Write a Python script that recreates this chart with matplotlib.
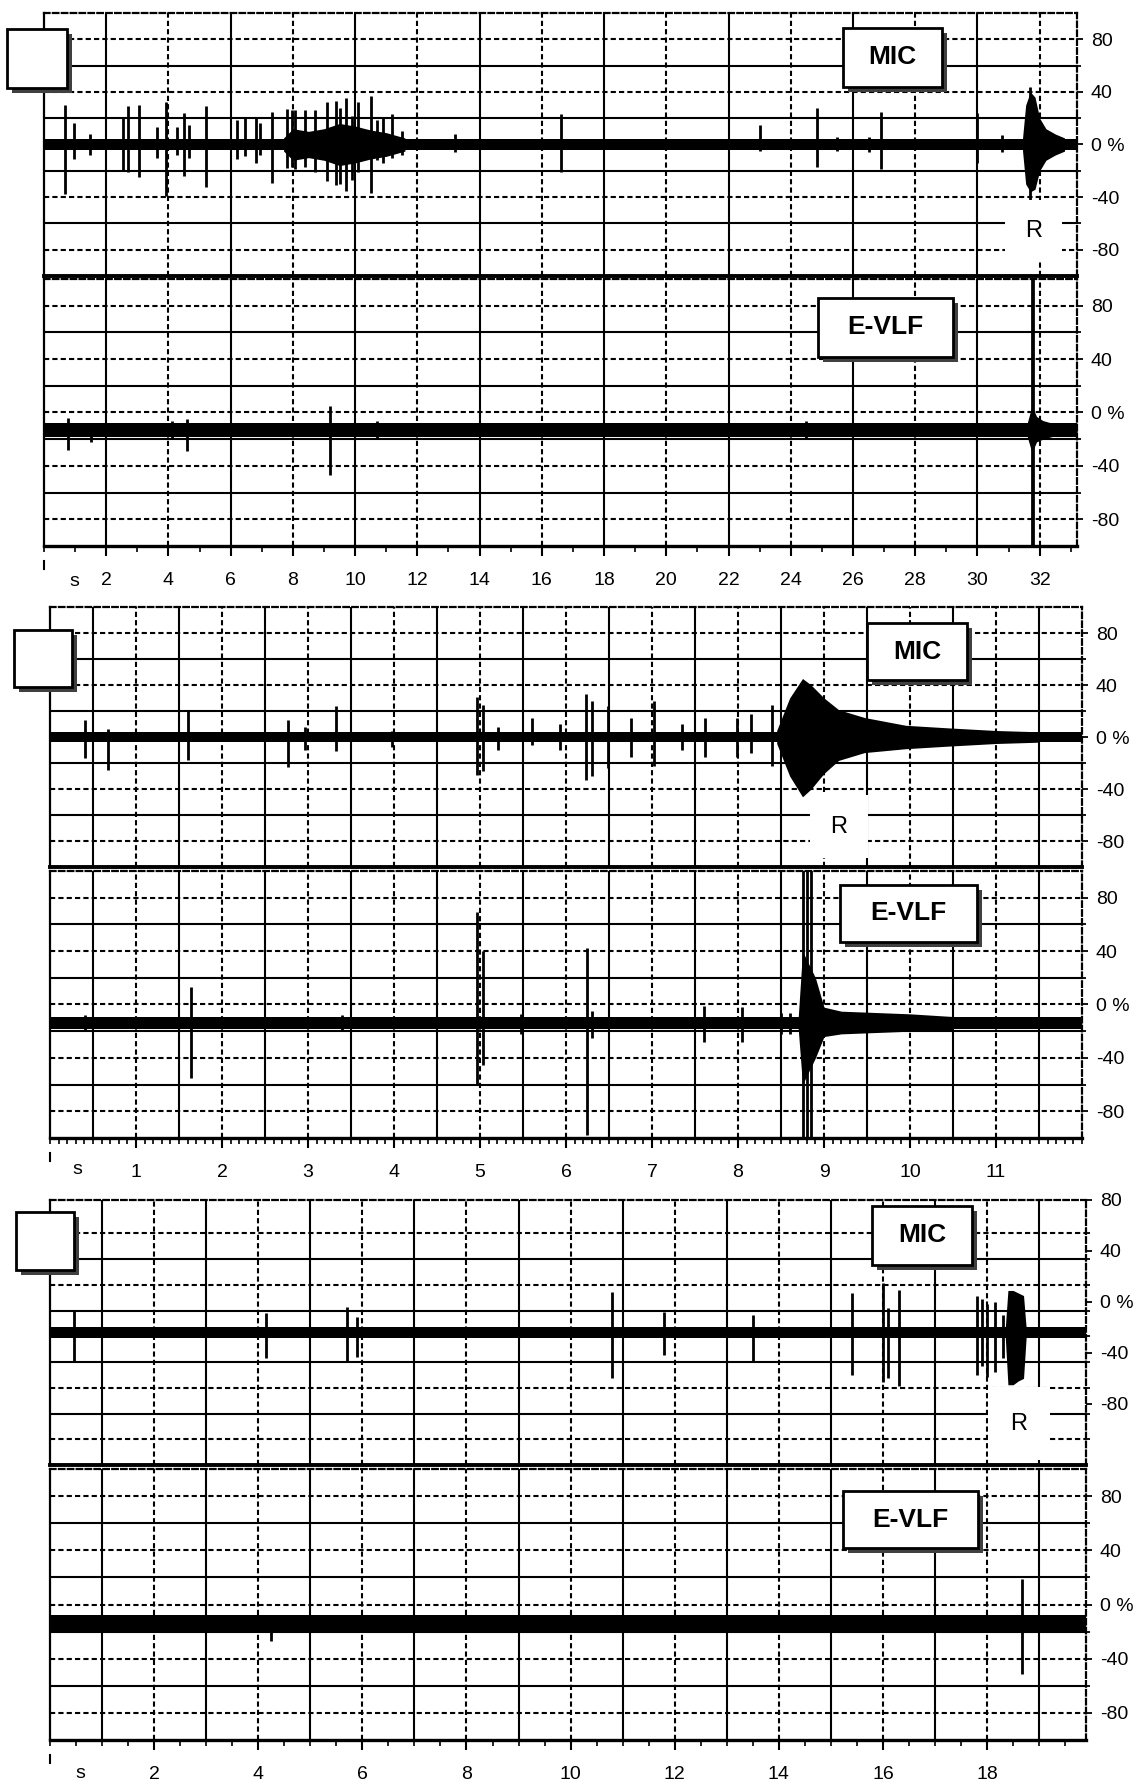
"""MIC / E-VLF recordings, three sessions, oscilloscope style grid"""
import matplotlib
matplotlib.use("Agg")
import matplotlib.pyplot as plt
from matplotlib.patches import Rectangle

plt.rcParams["font.family"] = ["Liberation Sans", "DejaVu Sans"]

W, H = 1141, 1785

Y_TICKS = [80, 40, 0, -40, -80]
Y_LABELS = ["80", "40", "0 %", "-40", "-80"]

# ---- session 1 (s) -----------------------------------------------------------
p1_xmax = 33.2
p1_grid = list(range(2, 34, 2))
p1_ticks = list(range(2, 34, 2))

mic1_base = 0
mic1_t = [0.68, 0.96, 1.48, 2.55, 2.71, 3.06, 3.62, 3.91, 4.26, 4.5, 4.65, 5.2,
          6.2, 6.46, 6.8, 6.95, 7.32, 7.8, 7.97, 8.07, 8.4, 8.7, 9.1, 9.4, 9.5,
          9.7, 9.9, 10.1, 10.5, 10.7, 10.9, 11.2, 11.5, 13.2, 16.6, 23.0, 24.85,
          25.5, 26.5, 26.9, 30.0, 30.8, 31.7]
mic1_hi = [30, 16, 8, 20, 29, 30, 13, 32, 13, 24, 15, 29, 19, 20, 21, 16, 25, 27,
           26, 26, 26, 26, 32, 33, 28, 35, 22, 32, 37, 19, 20, 23, 10, 8, 23, 15,
           28, 6, 6, 25, 24, 7, 44]
mic1_lo = [-38, -11, -8, -20, -21, -25, -10, -39, -8, -24, -10, -32, -11, -9, -14,
           -8, -29, -18, -17, -19, -17, -21, -28, -31, -30, -35, -27, -21, -37, -12,
           -14, -10, -8, -6, -21, -5, -17, -5, -6, -19, -14, -6, -43]
mic1_burst1_t = [7.7, 8.0, 8.5, 9.0, 9.5, 10.0, 10.5, 11.0, 11.6]
mic1_burst1_hi = [5, 12, 10, 12, 16, 14, 11, 9, 5]
mic1_burst1_lo = [-5, -12, -10, -12, -16, -14, -11, -9, -5]
mic1_burst2_t = [31.45, 31.55, 31.7, 31.85, 32.0, 32.2, 32.5, 32.8]
mic1_burst2_hi = [5, 30, 40, 36, 20, 12, 8, 5]
mic1_burst2_lo = [-5, -30, -36, -34, -20, -12, -8, -5]

vlf1_base = -13
vlf1_t = [0.77, 1.5, 4.1, 4.6, 9.2, 10.7, 24.5, 31.75, 31.8]
vlf1_hi = [-4, -8, -6, -5, 5, -6, -6, 110, 110]
vlf1_lo = [-28, -22, -20, -29, -47, -20, -19, -110, -110]
vlf1_burst_t = [31.6, 31.75, 31.9, 32.1, 32.4, 32.8, 33.2]
vlf1_burst_hi = [-8, 5, -3, -6, -8, -8, -8]
vlf1_burst_lo = [-18, -30, -22, -20, -18, -18, -18]

# ---- session 2 (s) -----------------------------------------------------------
p2_xmax = 12.0
p2_grid = [0.5 * k for k in range(1, 24)]
p2_ticks = list(range(1, 12))

mic2_base = 0
mic2_t = [0.41, 0.67, 1.60, 2.77, 2.96, 3.32, 3.98, 4.97, 5.04, 5.21, 5.60, 5.93,
          6.23, 6.30, 6.49, 6.76, 7.02, 7.35, 7.62, 7.99, 8.15, 8.39]
mic2_hi = [13, 6, 21, 13, 8, 24, 5, 31, 25, 8, 15, 10, 33, 28, 24, 15, 28, 10, 15,
           15, 18, 25]
mic2_lo = [-16, -25, -18, -23, -10, -11, -8, -29, -26, -10, -6, -10, -33, -30, -24,
           -15, -22, -10, -15, -15, -12, -22]
mic2_burst_t = [8.45, 8.6, 8.75, 8.85, 9.0, 9.17, 9.47, 9.95, 10.45, 11.0, 11.5]
mic2_burst_hi = [5, 30, 45, 40, 30, 21, 15, 9, 7, 5, 4]
mic2_burst_lo = [-5, -30, -46, -40, -28, -18, -12, -9, -7, -5, -4]

vlf2_base = -14
vlf2_t = [0.41, 1.64, 3.4, 4.97, 5.04, 5.48, 6.24, 6.3, 7.6, 8.05, 8.5, 8.6,
          8.75, 8.8, 8.85]
vlf2_hi = [-8, 13, -8, 69, 40, -7, 42, -5, -1, -2, -6, -6, 110, 110, 110]
vlf2_lo = [-20, -55, -20, -60, -45, -22, -98, -25, -28, -28, -22, -22, -110, -110,
           -110]
vlf2_burst_t = [8.7, 8.75, 8.9, 9.0, 9.2, 9.6, 10.0, 10.5]
vlf2_burst_hi = [-10, 40, 20, -2, -5, -6, -7, -9]
vlf2_burst_lo = [-18, -60, -40, -24, -22, -21, -20, -19]

# ---- session 3 (s) -----------------------------------------------------------
p3_xmax = 19.9
p3_grid = list(range(1, 20))
p3_ticks = list(range(2, 20, 2))

mic3_base = -24
mic3_t = [0.47, 4.15, 5.7, 5.9, 10.8, 11.8, 13.5, 15.4, 16.0, 16.1, 16.3, 17.8,
          17.9, 18.0, 18.15, 18.3]
mic3_hi = [-6, -9, -4, -12, 8, -8, -10, 7, 15, -5, 9, 5, 2, -2, 0, -10]
mic3_lo = [-46, -44, -46, -43, -60, -42, -47, -57, -63, -60, -66, -57, -50, -59,
           -55, -44]
mic3_burst_t = [18.35, 18.4, 18.5, 18.6, 18.7, 18.75]
mic3_burst_hi = [-20, 9, 9, 7, 5, -20]
mic3_burst_lo = [-28, -65, -65, -62, -60, -28]

vlf3_base = -13.5
vlf3_t = [4.24, 18.67]
vlf3_hi = [-8, 19]
vlf3_lo = [-27, -51]

SOLID = "-"
DASH = (0, (2.5, 1.5))


def px_axes(x0, y0, x1, y1):
    return fig.add_axes([x0 / W, 1 - y1 / H, (x1 - x0) / W, (y1 - y0) / H])


def style_channel(ax, xmax, ylim, vgrid, is_mic):
    lo, hi = ylim
    ax.set_xlim(0, xmax)
    ax.set_ylim(lo, hi)
    for i, g in enumerate(vgrid):
        ax.axvline(g, color="k", lw=1.5, ls=SOLID if i % 2 == 0 else DASH, zorder=1)
    hgrid = [lo + (hi - lo) * k / 10 for k in range(1, 10)]
    for i, g in enumerate(hgrid):
        ax.axhline(g, color="k", lw=1.5, ls=DASH if i % 2 == 0 else SOLID, zorder=1)

    ax.yaxis.tick_right()
    ax.set_yticks(Y_TICKS, Y_LABELS)
    ax.set_yticks(hgrid, minor=True)
    ax.tick_params(axis="y", which="major", length=4, width=1.3, pad=6,
                   labelsize=14, direction="out")
    ax.tick_params(axis="y", which="minor", length=3, width=1.3, direction="out")

    ax.spines["top"].set_linestyle(DASH)
    ax.spines["right"].set_linestyle(DASH)
    for sp in ax.spines.values():
        sp.set_linewidth(1.6)
    if is_mic:
        ax.spines["bottom"].set_linewidth(2.8)
        ax.tick_params(axis="x", which="both", bottom=False, labelbottom=False)


def draw_trace(ax, xmax, base, hw, ts, his, los, bursts=()):
    ax.fill_between([0, xmax], base - hw, base + hw, color="k", lw=0, zorder=3)
    for bt, bh, bl in bursts:
        ax.fill_between(bt, bl, bh, color="k", lw=0, zorder=3)
    ax.vlines(ts, los, his, color="k", lw=2.0, zorder=4)


def time_axis(ax, ticks, minor_step, xmax, s_x, label_y):
    ax.set_xticks(ticks, [str(t) for t in ticks])
    n = int(xmax / minor_step) + 1
    ax.set_xticks([minor_step * k for k in range(n)], minor=True)
    ax.tick_params(axis="x", which="major", length=7, width=1.5, pad=12,
                   labelsize=14, direction="out")
    ax.tick_params(axis="x", which="minor", length=4, width=1.2, direction="out")
    ax.spines["bottom"].set_linewidth(2.4)
    ax.plot([0, 0], [-0.055, -0.085], color="k", lw=1.5,
            transform=ax.get_xaxis_transform(), clip_on=False)
    fig.text(s_x / W, 1 - label_y / H, "s", ha="center", va="center", fontsize=14)


def shadow_box(x0, y0, x1, y1, text=None):
    sh = 5
    fig.add_artist(Rectangle(((x0 + sh) / W, 1 - (y1 + sh) / H), (x1 - x0) / W,
                             (y1 - y0) / H, transform=fig.transFigure,
                             facecolor="#404040", edgecolor="none", zorder=5))
    fig.add_artist(Rectangle((x0 / W, 1 - y1 / H), (x1 - x0) / W, (y1 - y0) / H,
                             transform=fig.transFigure, facecolor="white",
                             edgecolor="black", lw=2, zorder=6))
    if text:
        fig.text((x0 + x1) / 2 / W, 1 - (y0 + y1) / 2 / H, text, ha="center",
                 va="center", fontsize=19, fontweight="bold", zorder=7)


def r_mark(x0, y0, x1, y1):
    fig.add_artist(Rectangle((x0 / W, 1 - y1 / H), (x1 - x0) / W, (y1 - y0) / H,
                             transform=fig.transFigure, facecolor="white",
                             edgecolor="none", zorder=4))
    fig.text((x0 + x1) / 2 / W, 1 - (y0 + y1) / 2 / H, "R", ha="center",
             va="center", fontsize=17, zorder=7)


fig = plt.figure(figsize=(W / 100, H / 100), dpi=100, facecolor="white")

# session 1
ax = px_axes(44, 13, 1077, 276)
style_channel(ax, p1_xmax, (-100, 100), p1_grid, True)
draw_trace(ax, p1_xmax, mic1_base, 4, mic1_t, mic1_hi, mic1_lo,
           [(mic1_burst1_t, mic1_burst1_hi, mic1_burst1_lo),
            (mic1_burst2_t, mic1_burst2_hi, mic1_burst2_lo)])
ax = px_axes(44, 279, 1077, 546)
style_channel(ax, p1_xmax, (-100, 100), p1_grid, False)
draw_trace(ax, p1_xmax, vlf1_base, 5, vlf1_t, vlf1_hi, vlf1_lo,
           [(vlf1_burst_t, vlf1_burst_hi, vlf1_burst_lo)])
time_axis(ax, p1_ticks, 1, p1_xmax, 74, 582)

shadow_box(7, 29, 67, 88)
shadow_box(843, 28, 942, 87, "MIC")
shadow_box(818, 298, 953, 357, "E-VLF")
r_mark(1005, 200, 1062, 262)

# session 2
ax = px_axes(50, 607, 1082, 867)
style_channel(ax, p2_xmax, (-100, 100), p2_grid, True)
draw_trace(ax, p2_xmax, mic2_base, 4, mic2_t, mic2_hi, mic2_lo,
           [(mic2_burst_t, mic2_burst_hi, mic2_burst_lo)])
ax = px_axes(50, 871, 1082, 1138)
style_channel(ax, p2_xmax, (-100, 100), p2_grid, False)
draw_trace(ax, p2_xmax, vlf2_base, 4.5, vlf2_t, vlf2_hi, vlf2_lo,
           [(vlf2_burst_t, vlf2_burst_hi, vlf2_burst_lo)])
time_axis(ax, p2_ticks, 0.1, p2_xmax, 77, 1170)

shadow_box(14, 630, 72, 687)
shadow_box(867, 623, 967, 680, "MIC")
shadow_box(840, 885, 977, 942, "E-VLF")
r_mark(810, 795, 868, 858)

# session 3
ax = px_axes(50, 1200, 1086, 1465)
style_channel(ax, p3_xmax, (-128, 74), p3_grid, True)
draw_trace(ax, p3_xmax, mic3_base, 4, mic3_t, mic3_hi, mic3_lo,
           [(mic3_burst_t, mic3_burst_hi, mic3_burst_lo)])
ax = px_axes(50, 1469, 1086, 1740)
style_channel(ax, p3_xmax, (-100, 100), p3_grid, False)
draw_trace(ax, p3_xmax, vlf3_base, 6, vlf3_t, vlf3_hi, vlf3_lo)
time_axis(ax, p3_ticks, 0.5, p3_xmax, 80, 1773)

shadow_box(16, 1212, 74, 1270)
shadow_box(872, 1206, 972, 1265, "MIC")
shadow_box(843, 1491, 978, 1548, "E-VLF")
r_mark(988, 1387, 1050, 1460)

fig.savefig("out.png", dpi=100, facecolor="white")
